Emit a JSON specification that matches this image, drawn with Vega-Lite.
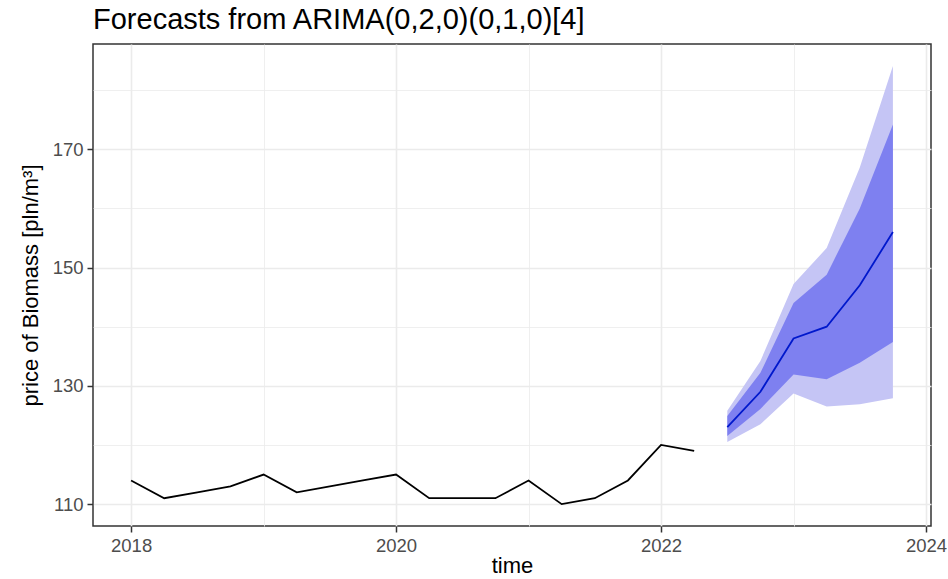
{
  "$schema": "https://vega.github.io/schema/vega-lite/v6.json",
  "autosize": {"type": "none"},
  "width": 838,
  "height": 482,
  "padding": {"left": 93, "top": 44, "right": 17, "bottom": 53},
  "background": "white",
  "title": {
    "text": "Forecasts from ARIMA(0,2,0)(0,1,0)[4]",
    "anchor": "start",
    "frame": "group",
    "font": "Liberation Sans",
    "fontSize": 29,
    "fontWeight": "normal",
    "color": "#000000",
    "offset": 9,
    "dx": 0
  },
  "datasets": {
    "hist": [
      {"t": 2018.0, "v": 114},
      {"t": 2018.25, "v": 111},
      {"t": 2018.5, "v": 112},
      {"t": 2018.75, "v": 113},
      {"t": 2019.0, "v": 115},
      {"t": 2019.25, "v": 112},
      {"t": 2019.5, "v": 113},
      {"t": 2019.75, "v": 114},
      {"t": 2020.0, "v": 115},
      {"t": 2020.25, "v": 111},
      {"t": 2020.5, "v": 111},
      {"t": 2020.75, "v": 111},
      {"t": 2021.0, "v": 114},
      {"t": 2021.25, "v": 110},
      {"t": 2021.5, "v": 111},
      {"t": 2021.75, "v": 114},
      {"t": 2022.0, "v": 120},
      {"t": 2022.25, "v": 119}
    ],
    "fc": [
      {"t": 2022.5, "mean": 123, "lo80": 121.5, "hi80": 124.9, "lo95": 120.5, "hi95": 125.8},
      {"t": 2022.75, "mean": 129, "lo80": 126.1, "hi80": 132.2, "lo95": 123.5, "hi95": 134.2},
      {"t": 2023.0, "mean": 138, "lo80": 131.9, "hi80": 144.0, "lo95": 128.7, "hi95": 147.2},
      {"t": 2023.25, "mean": 140, "lo80": 131.1, "hi80": 148.8, "lo95": 126.5, "hi95": 153.3},
      {"t": 2023.5, "mean": 147, "lo80": 133.9, "hi80": 160.0, "lo95": 126.9, "hi95": 166.9},
      {"t": 2023.75, "mean": 156, "lo80": 137.4, "hi80": 174.2, "lo95": 127.9, "hi95": 184.1}
    ]
  },
  "encoding": {
    "x": {
      "field": "t",
      "type": "quantitative",
      "scale": {"domain": [2017.7125, 2024.0375], "nice": false, "zero": false},
      "axis": {
        "title": "time",
        "values": [2018, 2019, 2020, 2021, 2022, 2023, 2024],
        "labelExpr": "datum.value % 2 === 0 ? format(datum.value, 'd') : ''",
        "gridWidth": {"condition": {"test": "datum.value % 2 === 0", "value": 1.6}, "value": 0.8},
        "tickOpacity": {"condition": {"test": "datum.value % 2 === 0", "value": 1}, "value": 0}
      }
    }
  },
  "layer": [
    {
      "data": {"name": "fc"},
      "mark": {"type": "area", "color": "#C5C5F5", "opacity": 1},
      "encoding": {
        "y": {
          "field": "lo95",
          "type": "quantitative",
          "scale": {"domain": [106.3, 187.8], "nice": false, "zero": false},
          "axis": {
            "title": "price of Biomass [pln/m³]",
            "values": [110, 120, 130, 140, 150, 160, 170, 180],
            "labelExpr": "datum.value % 20 === 10 ? format(datum.value, 'd') : ''",
            "gridWidth": {"condition": {"test": "datum.value % 20 === 10", "value": 1.6}, "value": 0.8},
            "tickOpacity": {"condition": {"test": "datum.value % 20 === 10", "value": 1}, "value": 0}
          }
        },
        "y2": {"field": "hi95"}
      }
    },
    {
      "data": {"name": "fc"},
      "mark": {"type": "area", "color": "#7E80F0", "opacity": 1},
      "encoding": {
        "y": {"field": "lo80", "type": "quantitative"},
        "y2": {"field": "hi80"}
      }
    },
    {
      "data": {"name": "fc"},
      "mark": {"type": "line", "color": "#0018CC", "strokeWidth": 1.8},
      "encoding": {
        "y": {"field": "mean", "type": "quantitative"}
      }
    },
    {
      "data": {"name": "hist"},
      "mark": {"type": "line", "color": "#000000", "strokeWidth": 1.8},
      "encoding": {
        "y": {"field": "v", "type": "quantitative"}
      }
    }
  ],
  "config": {
    "view": {"stroke": "#333333", "strokeWidth": 1.5},
    "axis": {
      "domain": false,
      "gridColor": "#EBEBEB",
      "tickColor": "#333333",
      "tickSize": 6,
      "tickWidth": 1.5,
      "labelFont": "Liberation Sans",
      "labelFontSize": 18.5,
      "labelColor": "#4D4D4D",
      "labelPadding": 4,
      "titleFont": "Liberation Sans",
      "titleFontSize": 22,
      "titleFontWeight": "normal",
      "titleColor": "#000000"
    },
    "axisX": {"titlePadding": 1},
    "axisY": {"titlePadding": 10}
  }
}
